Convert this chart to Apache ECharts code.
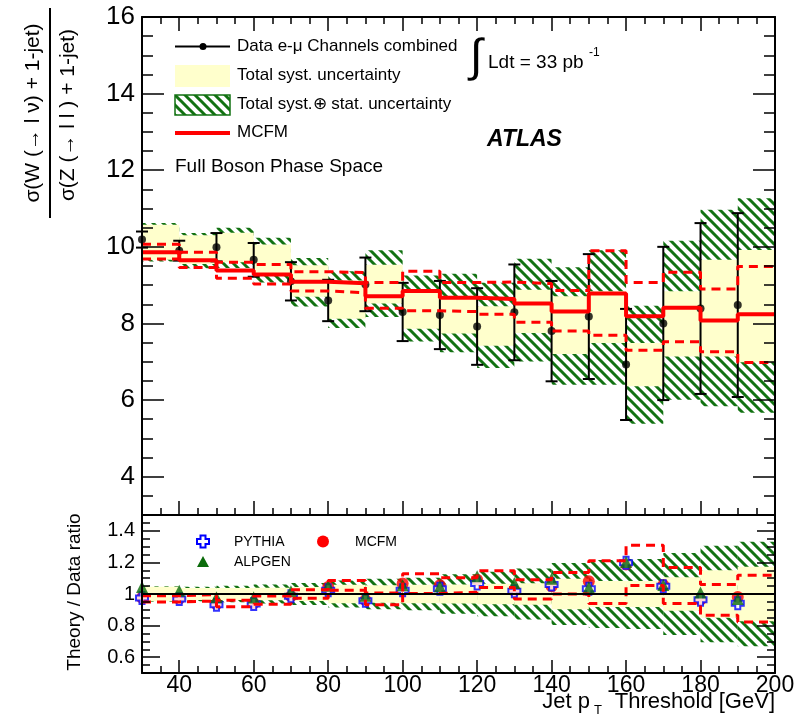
<!DOCTYPE html>
<html>
<head>
<meta charset="utf-8">
<script src="https://cdn.jsdelivr.net/npm/echarts@6/dist/echarts.min.js"></script>
<style>
html, body { margin: 0; padding: 0; background: #fff; }
#chart { width: 805px; height: 715px; }
</style>
</head>
<body>
<div id="chart"></div>
<script>
// jet pT thresholds (GeV), each bin is [x, x+10]
var thresholds = [30, 40, 50, 60, 70, 80, 90, 100, 110, 120, 130, 140, 150, 160, 170, 180, 190];
var binWidth = 10;

// measured W/Z ratio with error bars
var dataRatio = [10.19, 9.90, 9.99, 9.66, 9.10, 8.60, 9.02, 8.30, 8.22, 7.92, 8.29, 7.80, 8.18, 6.93, 8.00, 8.39, 8.48];
var dataErr = [0.21, 0.26, 0.37, 0.44, 0.50, 0.54, 0.70, 0.76, 0.89, 1.00, 1.25, 1.31, 1.63, 1.45, 2.00, 2.23, 2.40];

// total syst. band (yellow) and syst+stat band (hatched)
var systLow = [9.66, 9.55, 9.60, 9.30, 8.70, 8.12, 8.52, 7.86, 7.74, 7.42, 7.75, 7.20, 7.49, 6.36, 7.14, 7.14, 6.99];
var systHigh = [10.58, 10.30, 10.37, 10.06, 9.52, 9.12, 9.53, 8.82, 8.72, 8.45, 8.88, 8.71, 8.84, 7.49, 8.84, 9.66, 9.92];
var totLow = [9.62, 9.44, 9.45, 9.07, 8.44, 7.88, 8.17, 7.53, 7.25, 6.84, 7.01, 6.40, 6.40, 5.38, 6.01, 5.84, 5.67];
var totHigh = [10.62, 10.36, 10.50, 10.24, 9.71, 9.36, 9.91, 9.25, 9.30, 9.06, 9.69, 9.47, 9.91, 8.46, 10.16, 10.97, 11.27];

// MCFM prediction and its uncertainty
var mcfm = [9.86, 9.65, 9.38, 9.28, 9.09, 9.05, 8.71, 8.85, 8.67, 8.64, 8.52, 8.31, 8.78, 8.19, 8.41, 8.08, 8.24];
var mcfmHigh = [10.07, 9.86, 9.60, 9.54, 9.35, 9.33, 9.07, 9.36, 9.07, 9.08, 9.04, 8.86, 9.90, 9.07, 9.34, 8.90, 9.49];
var mcfmLow = [9.68, 9.46, 9.18, 9.03, 8.85, 8.80, 8.40, 8.33, 8.31, 8.24, 8.03, 7.80, 7.69, 7.30, 7.52, 7.26, 6.98];

// theory / data ratios
var ratioPythia = [0.974, 0.968, 0.932, 0.936, 0.985, 1.023, 0.958, 1.023, 1.034, 1.066, 1.017, 1.060, 1.034, 1.198, 1.049, 0.964, 0.942];
var ratioAlpgen = [1.045, 1.020, 0.980, 0.978, 1.017, 1.053, 0.989, 1.055, 1.049, 1.113, 1.070, 1.096, 1.042, 1.202, 1.057, 1.010, 0.968];
var ratioMcfm = [0.977, 0.970, 0.936, 0.942, 0.985, 1.045, 0.962, 1.066, 1.055, 1.090, 1.020, 1.049, 1.080, 1.187, 1.057, 0.964, 0.981];

// tick labels
var xTickLabels = [40, 60, 80, 100, 120, 140, 160, 180, 200];
var yTickLabels = [4, 6, 8, 10, 12, 14, 16];
var ratioTickLabels = [0.6, 0.8, 1, 1.2, 1.4];

var FONT = '"Liberation Sans", Arial, Helvetica, sans-serif';
var RED = '#ff0000';
var YELLOW = '#ffffcc';
var HATCH = '#127212';

function makeHatch(color, size, width) {
	var c = document.createElement('canvas');
	c.width = size;
	c.height = size;
	var ctx = c.getContext('2d');
	ctx.strokeStyle = color;
	ctx.lineWidth = width;
	ctx.beginPath();
	ctx.moveTo(-1, -1); ctx.lineTo(size + 1, size + 1);
	ctx.moveTo(-2, size - 2); ctx.lineTo(2, size + 2);
	ctx.moveTo(size - 2, -2); ctx.lineTo(size + 2, 2);
	ctx.stroke();
	return { image: c, repeat: 'repeat' };
}
var hatchFill = makeHatch(HATCH, 10, 3);

function bandRows(lo, hi) {
	return thresholds.map(function(x, i) { return [x, lo[i], hi[i]]; });
}
function ratioBandRows(lo, hi) {
	return thresholds.map(function(x, i) {
		var h = (hi[i] - lo[i]) / (2 * dataRatio[i]);
		return [x, 1 - h, 1 + h];
	});
}
function stepData(vals, div) {
	var d = thresholds.map(function(x, i) { return [x, div ? vals[i] / div[i] : vals[i]]; });
	var last = d[d.length - 1];
	d.push([last[0] + binWidth, last[1]]);
	return d;
}
function points(vals) {
	return thresholds.map(function(x, i) { return [x, vals[i]]; });
}

function bandSeries(xi, yi, rows, fill) {
	return {
		type: 'custom',
		xAxisIndex: xi,
		yAxisIndex: yi,
		silent: true,
		data: rows,
		renderItem: function(params, api) {
			var x = api.value(0);
			var p0 = api.coord([x, api.value(2)]);
			var p1 = api.coord([x + binWidth, api.value(1)]);
			return {
				type: 'rect',
				shape: { x: p0[0], y: p0[1], width: p1[0] - p0[0], height: p1[1] - p0[1] },
				style: { fill: fill, stroke: null }
			};
		}
	};
}

function stepSeries(xi, yi, d, width, dashed) {
	return {
		type: 'line',
		xAxisIndex: xi,
		yAxisIndex: yi,
		step: 'end',
		symbol: 'none',
		silent: true,
		data: d,
		lineStyle: { color: RED, width: width, type: dashed ? [9, 6] : 'solid' }
	};
}

function makeX(grid, pos, major, len, labels) {
	var a = {
		type: 'value', gridIndex: grid, position: pos, min: 30, max: 200, z: 10,
		axisLine: { show: !major, onZero: false, lineStyle: { color: '#000', width: 2 } },
		axisTick: { show: true, inside: true, length: len, lineStyle: { color: '#000', width: 1.5 } },
		axisLabel: { show: false },
		splitLine: { show: false }
	};
	if (major) {
		a.axisTick.customValues = xTickLabels;
	} else {
		a.interval = 5;
	}
	if (labels) {
		a.axisLabel = { show: true, customValues: xTickLabels, color: '#000', fontSize: 23, fontFamily: FONT, margin: 1 };
	}
	return a;
}

function makeY(grid, pos, min, max, minorStep, majors, len, labels, fontSize) {
	var a = {
		type: 'value', gridIndex: grid, position: pos, min: min, max: max, z: 10,
		axisLine: { show: !majors, onZero: false, lineStyle: { color: '#000', width: 2 } },
		axisTick: { show: true, inside: true, length: len, lineStyle: { color: '#000', width: 1.5 } },
		axisLabel: { show: false },
		splitLine: { show: false }
	};
	if (majors) {
		a.axisTick.customValues = majors;
	} else {
		a.interval = minorStep;
	}
	if (labels) {
		a.axisLabel = {
			show: true, customValues: majors, color: '#000', fontSize: fontSize, fontFamily: FONT, margin: 7,
			formatter: function(v) { return String(+(+v).toFixed(2)); }
		};
	}
	return a;
}

function txt(x, y, s, size, opts) {
	opts = opts || {};
	return {
		type: 'text', x: x, y: y, rotation: opts.rot || 0, z: 100,
		style: {
			text: s, fill: opts.color || '#000',
			font: (opts.weight || '') + ' ' + size + 'px ' + FONT,
			align: opts.align || 'left', textAlign: opts.align || 'left',
			verticalAlign: 'middle', textVerticalAlign: 'middle'
		}
	};
}

var crossPath = 'path://M-2.5,-6L2.5,-6L2.5,-2.5L6,-2.5L6,2.5L2.5,2.5L2.5,6L-2.5,6L-2.5,2.5L-6,2.5L-6,-2.5L-2.5,-2.5Z';

var myChart = echarts.init(document.getElementById('chart'));

var option = {
	animation: false,
	backgroundColor: '#fff',
	grid: [
		{ left: 142, top: 17, width: 633, height: 498, outerBoundsMode: 'none' },
		{ left: 142, top: 515, width: 633, height: 158, outerBoundsMode: 'none' }
	],
	xAxis: [
		makeX(0, 'bottom', false, 7),
		makeX(0, 'bottom', true, 14),
		makeX(0, 'top', false, 7),
		makeX(0, 'top', true, 14),
		makeX(1, 'bottom', false, 7),
		makeX(1, 'bottom', true, 13, true)
	],
	yAxis: [
		makeY(0, 'left', 3, 16, 0.5, null, 11),
		makeY(0, 'left', 3, 16, 0, yTickLabels, 22, true, 26),
		makeY(0, 'right', 3, 16, 0.5, null, 11),
		makeY(0, 'right', 3, 16, 0, yTickLabels, 22),
		makeY(1, 'left', 0.5, 1.5, 0.05, null, 8),
		makeY(1, 'left', 0.5, 1.5, 0, ratioTickLabels, 18, true, 20),
		makeY(1, 'right', 0.5, 1.5, 0.05, null, 8),
		makeY(1, 'right', 0.5, 1.5, 0, ratioTickLabels, 18)
	],
	series: [
		// main panel
		bandSeries(0, 0, bandRows(totLow, totHigh), hatchFill),
		bandSeries(0, 0, bandRows(systLow, systHigh), YELLOW),
		stepSeries(0, 0, stepData(mcfmHigh), 3, true),
		stepSeries(0, 0, stepData(mcfmLow), 3, true),
		stepSeries(0, 0, stepData(mcfm), 4, false),
		{
			type: 'custom',
			xAxisIndex: 0,
			yAxisIndex: 0,
			silent: true,
			data: thresholds.map(function(x, i) { return [x, dataRatio[i], dataErr[i]]; }),
			renderItem: function(params, api) {
				var x = api.value(0), v = api.value(1), e = api.value(2);
				var top = api.coord([x, v + e]);
				var bot = api.coord([x, v - e]);
				var w = 6;
				var st = { stroke: '#000', lineWidth: 2 };
				return {
					type: 'group',
					children: [
						{ type: 'line', shape: { x1: top[0], y1: top[1], x2: bot[0], y2: bot[1] }, style: st },
						{ type: 'line', shape: { x1: top[0] - w, y1: top[1], x2: top[0] + w, y2: top[1] }, style: st },
						{ type: 'line', shape: { x1: bot[0] - w, y1: bot[1], x2: bot[0] + w, y2: bot[1] }, style: st }
					]
				};
			}
		},
		{
			type: 'scatter',
			xAxisIndex: 0,
			yAxisIndex: 0,
			symbol: 'circle',
			symbolSize: 8,
			itemStyle: { color: '#000' },
			data: points(dataRatio)
		},
		// ratio panel
		bandSeries(4, 4, ratioBandRows(totLow, totHigh), hatchFill),
		bandSeries(4, 4, ratioBandRows(systLow, systHigh), YELLOW),
		{
			type: 'line',
			xAxisIndex: 4,
			yAxisIndex: 4,
			symbol: 'none',
			data: [],
			markLine: {
				silent: true,
				symbol: 'none',
				label: { show: false },
				lineStyle: { color: '#000', width: 2, type: 'solid' },
				data: [{ yAxis: 1 }]
			}
		},
		stepSeries(4, 4, stepData(mcfmHigh, dataRatio), 3, true),
		stepSeries(4, 4, stepData(mcfmLow, dataRatio), 3, true),
		{
			type: 'scatter', xAxisIndex: 4, yAxisIndex: 4,
			symbol: 'circle', symbolSize: 12,
			itemStyle: { color: RED },
			data: points(ratioMcfm)
		},
		{
			type: 'scatter', xAxisIndex: 4, yAxisIndex: 4,
			symbol: crossPath, symbolSize: 12,
			itemStyle: { color: '#fff', borderColor: '#0000ff', borderWidth: 2 },
			data: points(ratioPythia)
		},
		{
			type: 'scatter', xAxisIndex: 4, yAxisIndex: 4,
			symbol: 'triangle', symbolSize: 12,
			itemStyle: { color: '#0b6b0b' },
			data: points(ratioAlpgen)
		}
	],
	graphic: [
		// y axis title (fraction)
		txt(33, 113, 'σ(W (→ l ν) + 1-jet)', 21, { rot: Math.PI / 2, align: 'center' }),
		txt(68, 115, 'σ(Z (→ l l ) + 1-jet)', 21, { rot: Math.PI / 2, align: 'center' }),
		{ type: 'line', z: 100, shape: { x1: 50, y1: 8, x2: 50, y2: 218 }, style: { stroke: '#000', lineWidth: 2 } },
		txt(75, 592, 'Theory / Data ratio', 19, { rot: Math.PI / 2, align: 'center' }),
		// x axis title
		txt(775, 702, 'Threshold [GeV]', 22, { align: 'right' }),
		txt(602, 710, 'T', 13, { align: 'right' }),
		txt(590, 702, 'Jet p', 22, { align: 'right' }),
		// legend
		{ type: 'line', z: 100, shape: { x1: 175, y1: 46.5, x2: 230, y2: 46.5 }, style: { stroke: '#000', lineWidth: 2 } },
		{ type: 'circle', z: 100, shape: { cx: 203, cy: 46.5, r: 3.5 }, style: { fill: '#000' } },
		txt(237, 46, 'Data e-μ Channels combined', 17),
		{ type: 'rect', z: 100, shape: { x: 175, y: 65, width: 55, height: 22 }, style: { fill: YELLOW } },
		txt(237, 75, 'Total syst. uncertainty', 17),
		{ type: 'rect', z: 100, shape: { x: 175, y: 95, width: 55, height: 20 }, style: { fill: hatchFill, stroke: HATCH, lineWidth: 1.5 } },
		txt(237, 104, 'Total syst.⊕ stat. uncertainty', 17),
		{ type: 'line', z: 100, shape: { x1: 175, y1: 133, x2: 230, y2: 133 }, style: { stroke: RED, lineWidth: 4 } },
		txt(237, 132, 'MCFM', 17),
		txt(175, 167, 'Full Boson Phase Space', 19),
		txt(470, 58, '∫', 46),
		txt(488, 63, 'Ldt = 33 pb', 19),
		txt(589, 53, '-1', 12),
		txt(487, 140, 'ATLAS', 23, { weight: 'italic bold' }),
		// ratio legend
		{ type: 'polygon', z: 100, x: 203, y: 541.5,
			shape: { points: [[-2.5, -6], [2.5, -6], [2.5, -2.5], [6, -2.5], [6, 2.5], [2.5, 2.5], [2.5, 6], [-2.5, 6], [-2.5, 2.5], [-6, 2.5], [-6, -2.5], [-2.5, -2.5]] },
			style: { fill: '#fff', stroke: '#0000ff', lineWidth: 2 } },
		txt(234, 542, 'PYTHIA', 14),
		{ type: 'polygon', z: 100, x: 203, y: 562,
			shape: { points: [[0, -6], [6, 5], [-6, 5]] },
			style: { fill: '#0b6b0b' } },
		txt(234, 562, 'ALPGEN', 14),
		{ type: 'circle', z: 100, shape: { cx: 323, cy: 541.5, r: 6 }, style: { fill: RED } },
		txt(355, 542, 'MCFM', 14)
	]
};

myChart.setOption(option);
window.addEventListener('resize', function() {
	myChart.resize();
});
</script>
</body>
</html>
